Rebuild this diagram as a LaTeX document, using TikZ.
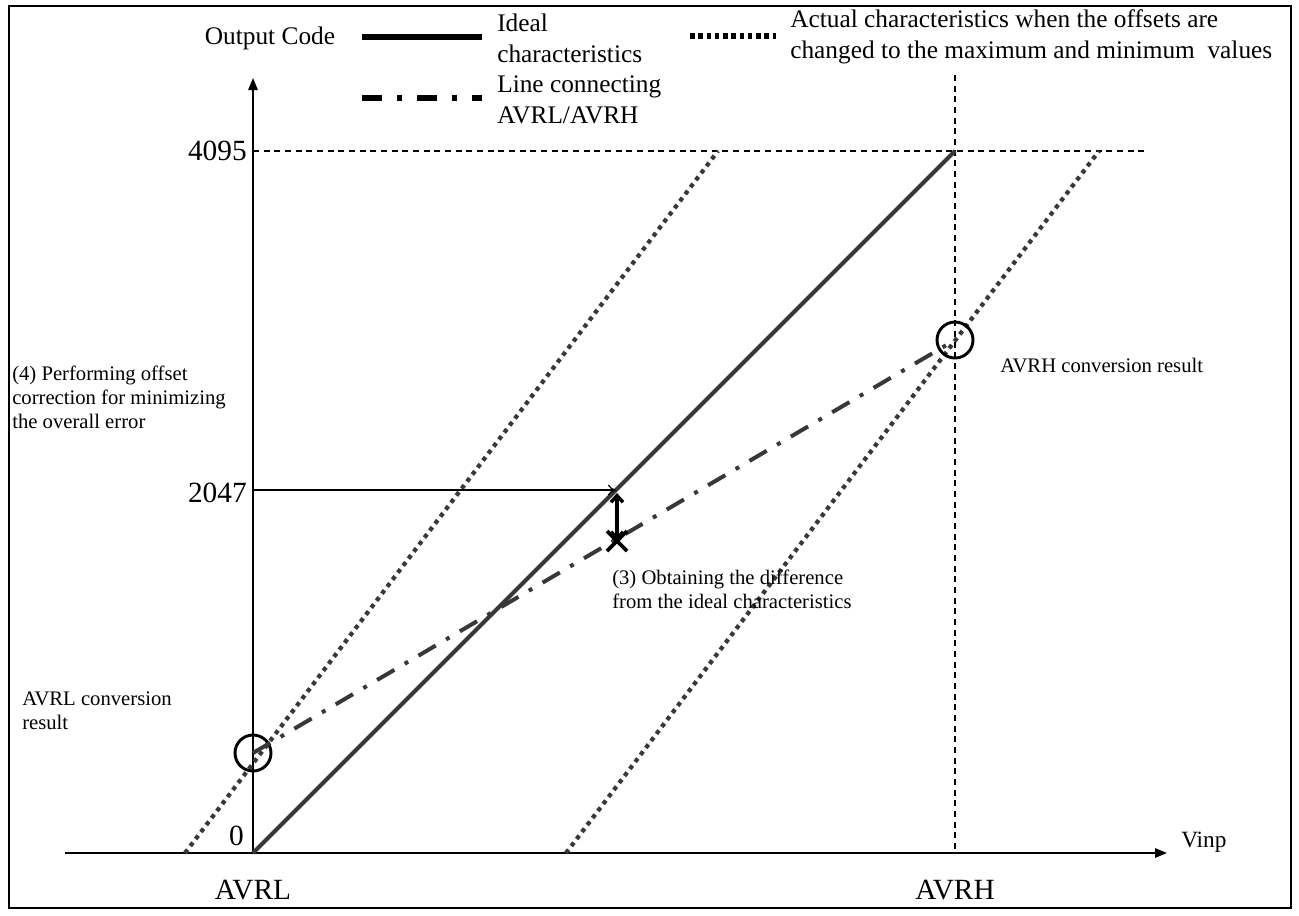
\documentclass[tikz,border=0pt]{standalone}
\usepackage{fontspec}
\setmainfont{Liberation Serif}
\usetikzlibrary{arrows.meta,calc}

\begin{document}
\begin{tikzpicture}[x=0.75pt,y=-0.75pt,
  txt/.style={inner sep=0pt, font=\fontsize{15.5}{18}\selectfont, align=left},
  keytxt/.style={inner sep=0pt, font=\fontsize{19}{23}\selectfont, align=left},
  bigtxt/.style={inner sep=0pt, font=\fontsize{22}{26}\selectfont},
  axis/.style={line width=1.4pt, -{Triangle[length=9pt,width=7pt]}},
  guide/.style={line width=0.9pt, dash pattern=on 4.5pt off 3.5pt},
  ideal/.style={line width=3pt, draw=black!78},
  actual/.style={line width=3.2pt, draw=black!78, dash pattern=on 3.2pt off 3.4pt},
  connect/.style={line width=3pt, draw=black!78, dash pattern=on 15pt off 9pt on 3pt off 9pt},
  ringmark/.style={circle, draw, line width=2.2pt, minimum size=27pt, inner sep=0pt},
]
\useasboundingbox (0,0) rectangle (1299,915);
\draw[line width=1.2pt] (9,6) rectangle (1291,908);

% key points of the transfer characteristics
\coordinate (O)      at (253,853);
\coordinate (xend)   at (1167,853);
\coordinate (xstart) at (65,853);
\coordinate (ytop)   at (253,78);
\coordinate (ytop4095) at (253,151);
\coordinate (ideal4095) at (955,151);
\coordinate (hend)   at (1145,151);
\coordinate (vtop)   at (955,75);
\coordinate (vbot)   at (955,853);
\coordinate (minlo)  at (185,853);
\coordinate (minhi)  at (718,151);
\coordinate (maxlo)  at (566,853);
\coordinate (maxhi)  at (1099,151);
\coordinate (y2047)  at (253,490);
\coordinate (i2047)  at (616,490);

% axes
\draw[axis] (xstart) -- (xend);
\draw[axis] (O) -- (ytop);
\node[txt, anchor=west, font=\fontsize{17.5}{20}\selectfont] (vinp) at (1181,842) {Vinp};
\node[bigtxt, anchor=east] (zero) at (244,836) {0};
\node[bigtxt] (avrl) at (253,890) {AVRL};
\node[bigtxt] (avrh) at (955,890) {AVRH};
\node[bigtxt, anchor=east] (l4095) at (247,151) {4095};
\node[bigtxt, anchor=east] (l2047) at (247,493) {2047};

% guide lines
\draw[guide] (ytop4095) -- (hend);
\draw[guide] (vtop) -- (vbot);

% characteristics
\draw[ideal] (O) -- (ideal4095);
\draw[actual] (minlo) -- (minhi);
\draw[actual] (maxlo) -- (maxhi);

% conversion results
\node[ringmark] (cl) at (253,753) {};
\node[ringmark] (ch) at (955,340) {};
\draw[connect] (cl.center) -- (ch.center);

% offset correction arrow
\draw[line width=0.9pt, -{To[length=6pt,width=8pt]}] (y2047) -- (i2047);

% difference to the ideal line
\coordinate (dtop) at (617,493);
\coordinate (dx) at (617,541);
\draw[line width=2.6pt, {Straight Barb[length=5pt,width=9pt]}-{Straight Barb[length=5pt,width=9pt]}] (dtop) -- (dx);
\draw[line width=2.8pt] ($(dx)+(-10,-10)$) -- ($(dx)+(10,10)$) ($(dx)+(-10,10)$) -- ($(dx)+(10,-10)$);

% annotations
\node[txt, anchor=north west] (n3) at (612,570) {(3) Obtaining the difference\\from the ideal characteristics};
\node[txt, anchor=north west] (n4) at (12,366) {(4) Performing offset\\correction for minimizing\\the overall error};
\node[txt, anchor=west] (nh) at (1000,365) {AVRH conversion result};
\node[txt, anchor=north west] (nl) at (22,692) {AVRL conversion\\result};

% legend
\node[keytxt] (oc) at (270,38) {Output Code};
\coordinate (lg1a) at (362,37);
\coordinate (lg1b) at (482,37);
\draw[line width=3.8pt] (lg1a) -- (lg1b);
\node[keytxt, anchor=west] (lg1t) at (497,38) {Ideal\\characteristics};
\coordinate (lg2a) at (362,98);
\coordinate (lg2b) at (482,98);
\draw[line width=3.8pt, dash pattern=on 15pt off 11.25pt on 3.75pt off 11.25pt] (lg2a) -- (lg2b);
\node[keytxt, anchor=west] (lg2t) at (497,100) {Line connecting\\AVRL/AVRH};
\coordinate (lg3a) at (690,36);
\coordinate (lg3b) at (776,36);
\draw[line width=3.8pt, dash pattern=on 3.4pt off 2.8pt] (lg3a) -- (lg3b);
\node[keytxt, anchor=west] (lg3t) at (790,37) {Actual characteristics when the offsets are\\changed to the maximum and minimum\ \ values};
\end{tikzpicture}
\end{document}
